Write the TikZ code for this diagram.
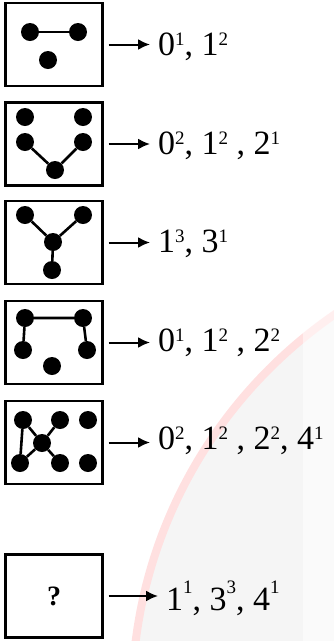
\documentclass[tikz,border=0pt]{standalone}
\usepackage{fontspec}
\setmainfont{Liberation Serif}
\usetikzlibrary{arrows.meta}

\tikzset{
  box/.style={draw, line width=2.2pt, minimum width=97pt, minimum height=83pt, inner sep=0pt},
  dot/.style={circle, fill, inner sep=0pt, minimum size=18pt},
  edge/.style={line width=2.6pt},
  lbl/.style={anchor=base west, inner sep=0pt, font=\fontsize{34}{40}\selectfont},
  arr/.style={->, line width=2pt}
}
\newcommand{\pw}[2]{#1\raisebox{10pt}{\fontsize{19}{19}\selectfont #2}}
\newcommand{\pwhi}[2]{#1\raisebox{17pt}{\fontsize{19}{19}\selectfont #2}}

\begin{document}
\begin{tikzpicture}[x=1pt, y=-1pt, >={Latex[length=12pt,width=11pt]}]
  \useasboundingbox (0,0) rectangle (334,641);
  % faint watermark
  \begin{scope}
    \clip (0,0) rectangle (334,641);
    \fill[black!4] (600,700) circle (468);
    \draw[red!12, line width=8pt] (600,700) circle (468);
    \fill[white, opacity=0.5] (303,0) rectangle (334,641);
  \end{scope}
  % boxes
  \node[box] (b1) at (54,44.5) {};
  \node[box] (b2) at (54,144) {};
  \node[box] (b3) at (54,242.5) {};
  \node[box] (b4) at (54,342.5) {};
  \node[box] (b5) at (54,442.5) {};
  \node[box, font=\fontsize{28}{32}\selectfont\bfseries] (b6) at (54,596) {?};
  % graph 1
  \node[dot] (p1) at (30,32) {};
  \node[dot] (p2) at (78,32) {};
  \node[dot] (p3) at (48,60) {};
  \draw[edge] (p1) -- (p2);
  % graph 2
  \node[dot] (q1) at (25,117) {};
  \node[dot] (q2) at (83,117) {};
  \node[dot] (q3) at (25,142) {};
  \node[dot] (q4) at (83,142) {};
  \node[dot] (q5) at (55,170) {};
  \draw[edge] (q3) -- (q5) -- (q4);
  % graph 3
  \node[dot] (r1) at (25,215) {};
  \node[dot] (r2) at (83,215) {};
  \node[dot] (r3) at (53,242) {};
  \node[dot] (r4) at (52,270) {};
  \foreach \n in {r1,r2,r4} \draw[edge] (r3) -- (\n);
  % graph 4
  \node[dot] (s1) at (25,318) {};
  \node[dot] (s2) at (83,318) {};
  \node[dot] (s3) at (23,350) {};
  \node[dot] (s4) at (87,350) {};
  \node[dot] (s5) at (52,366) {};
  \draw[edge] (s3) -- (s1) -- (s2) -- (s4);
  % graph 5
  \node[dot] (u1) at (23,420) {};
  \node[dot] (u2) at (60,420) {};
  \node[dot] (u3) at (88,420) {};
  \node[dot] (u4) at (42,443) {};
  \node[dot] (u5) at (20,463) {};
  \node[dot] (u6) at (60,463) {};
  \node[dot] (u7) at (88,463) {};
  \foreach \n in {u1,u2,u5,u6} \draw[edge] (u4) -- (\n);
  \draw[edge] (u1) -- (u5);
  % degree sequences
  \node[lbl] (t1) at (158,55) {\pw{0}{1}, \pw{1}{2}};
  \node[lbl] (t2) at (158,154) {\pw{0}{2}, \pw{1}{2} , \pw{2}{1}};
  \node[lbl] (t3) at (158,252) {\pw{1}{3}, \pw{3}{1}};
  \node[lbl] (t4) at (158,351) {\pw{0}{1}, \pw{1}{2} , \pw{2}{2}};
  \node[lbl] (t5) at (158,449) {\pw{0}{2}, \pw{1}{2} , \pw{2}{2}, \pw{4}{1}};
  \node[lbl] (t6) at (166,610) {\pwhi{1}{1}, \pwhi{3}{3}, \pwhi{4}{1}};
  \foreach \i in {1,...,6}
    \draw[arr] ([xshift=5pt]b\i.east) -- ([xshift=-8pt]t\i.west |- b\i.east);
\end{tikzpicture}
\end{document}
